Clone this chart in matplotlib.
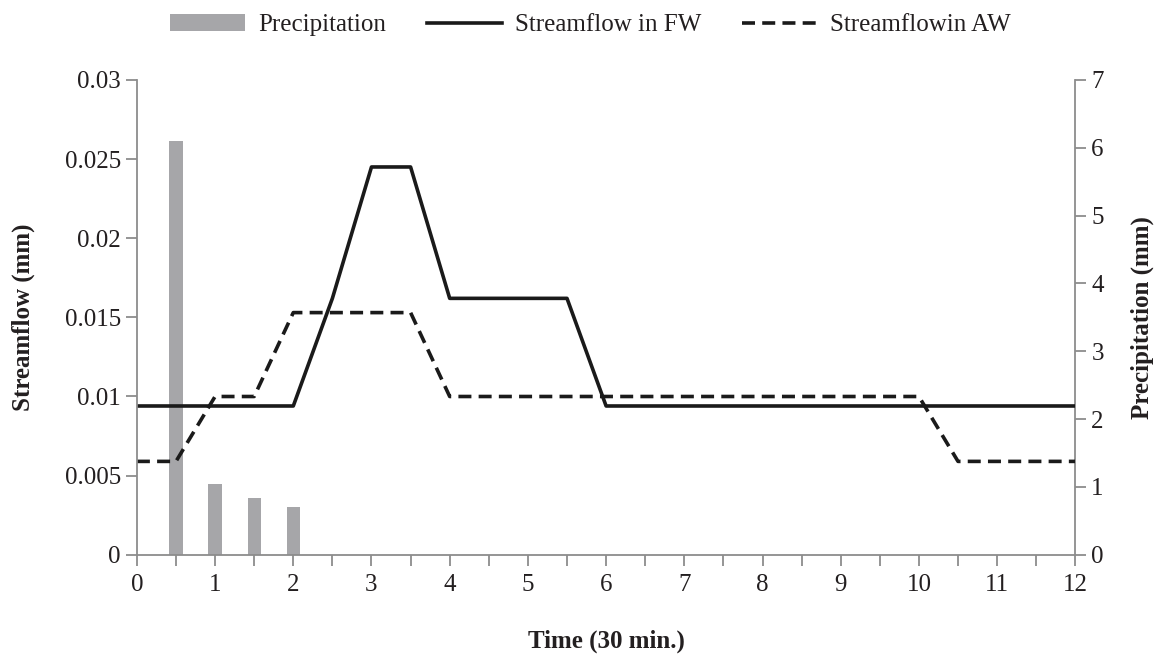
import matplotlib
matplotlib.use("Agg")
import matplotlib.pyplot as plt
from matplotlib.ticker import MultipleLocator

time = [0, 0.5, 1, 1.5, 2, 2.5, 3, 3.5, 4, 4.5, 5, 5.5, 6, 6.5, 7, 7.5, 8, 8.5,
        9, 9.5, 10, 10.5, 11, 11.5, 12]
flow_fw = [0.0094, 0.0094, 0.0094, 0.0094, 0.0094, 0.0162, 0.0245, 0.0245, 0.0162,
           0.0162, 0.0162, 0.0162, 0.0094, 0.0094, 0.0094, 0.0094, 0.0094, 0.0094,
           0.0094, 0.0094, 0.0094, 0.0094, 0.0094, 0.0094, 0.0094]
flow_aw = [0.0059, 0.0059, 0.0100, 0.0100, 0.0153, 0.0153, 0.0153, 0.0153, 0.0100,
           0.0100, 0.0100, 0.0100, 0.0100, 0.0100, 0.0100, 0.0100, 0.0100, 0.0100,
           0.0100, 0.0100, 0.0100, 0.0059, 0.0059, 0.0059, 0.0059]
precip_time = [0.5, 1, 1.5, 2]
precip = [6.1, 1.04, 0.83, 0.70]

plt.rcParams['font.family'] = ['Liberation Serif', 'DejaVu Serif']
plt.rcParams['font.size'] = 18

text_c = '#231f20'
spine_c = '#8c8c8c'
bar_c = '#a6a6a9'

fig = plt.figure(figsize=(11.6, 6.55), dpi=100)
ax = fig.add_axes([0.118, 0.153, 0.809, 0.725])
ax2 = ax.twinx()

bars = ax2.bar(precip_time, precip, width=0.17, color=bar_c, zorder=1,
               label='Precipitation')
ax2.set_ylim(0, 7)
ax2.set_yticks(range(0, 8))

ax.set_zorder(ax2.get_zorder() + 1)
ax.patch.set_visible(False)
l1, = ax.plot(time, flow_fw, color='#1a1a1a', lw=2.6, label='Streamflow in FW')
l2, = ax.plot(time, flow_aw, color='#1a1a1a', lw=2.6, dashes=(3.6, 2.0),
              label='Streamflowin AW')

ax.set_xlim(0, 12)
ax.set_ylim(0, 0.03)
ax.set_yticks([0, 0.005, 0.01, 0.015, 0.02, 0.025, 0.03])
ax.set_yticklabels(['0', '0.005', '0.01', '0.015', '0.02', '0.025', '0.03'])
ax.xaxis.set_major_locator(MultipleLocator(1))
ax.xaxis.set_minor_locator(MultipleLocator(0.5))

for a in (ax, ax2):
    a.spines['top'].set_visible(False)
    for s in ('left', 'right', 'bottom'):
        a.spines[s].set_color(spine_c)
        a.spines[s].set_linewidth(1.3)
    a.tick_params(which='both', direction='out', length=8, width=1.3,
                  color=spine_c, labelcolor=text_c, labelsize=18)
ax.spines['right'].set_visible(False)
ax2.spines['left'].set_visible(False)
ax2.spines['bottom'].set_visible(False)
ax.tick_params(axis='x', which='both', pad=6)

ax.set_xlabel('Time (30 min.)', fontweight='bold', color=text_c, fontsize=18, labelpad=24)
ax.set_ylabel('Streamflow (mm)', fontweight='bold', color=text_c, fontsize=18, labelpad=21)
ax2.set_ylabel('Precipitation (mm)', fontweight='bold', color=text_c, fontsize=18, labelpad=19)

fig.legend(handles=[bars, l1, l2], labels=['Precipitation', 'Streamflow in FW', 'Streamflowin AW'],
           loc='upper center', bbox_to_anchor=(0.509, 1.013), ncol=3, frameon=False,
           handlelength=3.0, columnspacing=1.65, handletextpad=0.5, fontsize=18,
           labelcolor=text_c)

fig.savefig('out.png', dpi=100)
